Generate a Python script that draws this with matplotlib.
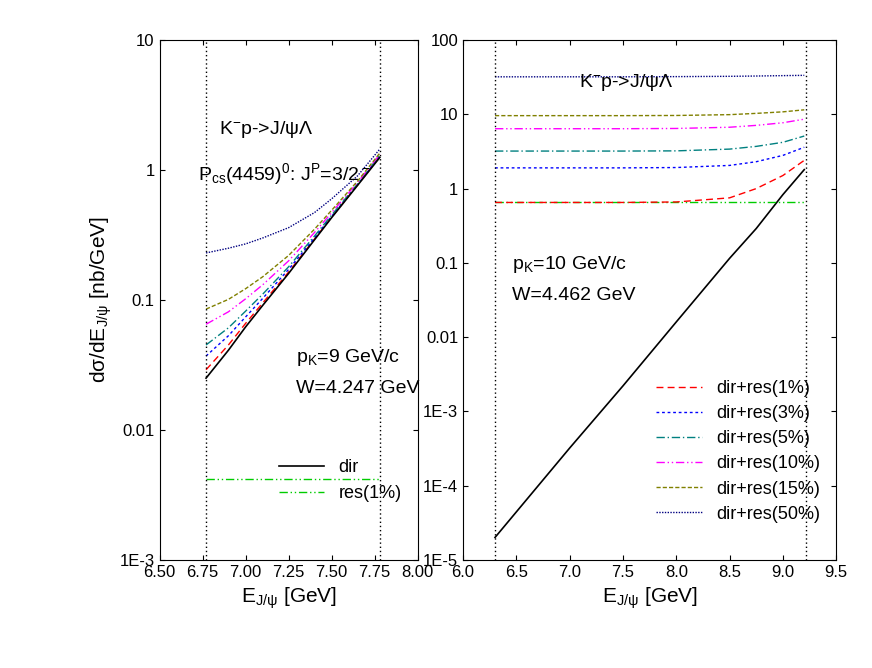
import matplotlib
matplotlib.use("Agg")
import matplotlib.pyplot as plt
from matplotlib.ticker import FixedLocator, NullLocator

plt.rcParams["font.family"] = "Liberation Sans"
plt.rcParams["font.size"] = 13
plt.rcParams["mathtext.default"] = "regular"

#left panel data (p_K = 9 GeV/c)
E_left = [6.77, 6.9, 7.0, 7.1, 7.25, 7.4, 7.5, 7.65, 7.78]
dir_left = [0.025, 0.041, 0.062, 0.091, 0.16, 0.29, 0.43, 0.76, 1.25]
res1_left = [0.0042] * 9
left_mix = {
    "dir+res(1%)": [0.029, 0.045, 0.066, 0.095, 0.164, 0.294, 0.434, 0.765, 1.27],
    "dir+res(3%)": [0.037, 0.053, 0.074, 0.103, 0.172, 0.30, 0.44, 0.77, 1.28],
    "dir+res(5%)": [0.045, 0.061, 0.082, 0.111, 0.18, 0.31, 0.45, 0.78, 1.30],
    "dir+res(10%)": [0.065, 0.081, 0.102, 0.131, 0.20, 0.33, 0.47, 0.80, 1.32],
    "dir+res(15%)": [0.085, 0.101, 0.122, 0.151, 0.22, 0.35, 0.49, 0.82, 1.35],
    "dir+res(50%)": [0.23, 0.25, 0.27, 0.30, 0.36, 0.47, 0.60, 0.90, 1.45],
}

#right panel data (p_K = 10 GeV/c)
E_right = [6.3, 7.0, 7.5, 8.0, 8.5, 8.75, 9.0, 9.2]
dir_right = [2e-5, 3.2e-4, 2.2e-3, 0.016, 0.115, 0.29, 0.83, 1.8]
res1_right = [0.65] * 8
right_mix = {
    "dir+res(1%)": [0.65, 0.65, 0.65, 0.66, 0.75, 1.0, 1.5, 2.4],
    "dir+res(3%)": [1.9, 1.9, 1.9, 1.92, 2.05, 2.3, 2.8, 3.6],
    "dir+res(5%)": [3.2, 3.2, 3.2, 3.22, 3.4, 3.7, 4.2, 5.1],
    "dir+res(10%)": [6.4, 6.4, 6.4, 6.45, 6.7, 7.1, 7.7, 8.6],
    "dir+res(15%)": [9.6, 9.6, 9.6, 9.65, 9.9, 10.3, 10.8, 11.5],
    "dir+res(50%)": [32, 32, 32, 32.2, 32.5, 32.8, 33.2, 33.5],
}

styles = {
    "dir+res(1%)": ("#ff0000", (0, (5, 3))),
    "dir+res(3%)": ("#0000ff", (0, (2, 2))),
    "dir+res(5%)": ("#008080", (0, (6, 2, 1, 2))),
    "dir+res(10%)": ("#ff00ff", (0, (6, 2, 1, 2, 1, 2))),
    "dir+res(15%)": ("#808000", (0, (3, 1.5))),
    "dir+res(50%)": ("#000080", (0, (1, 1))),
}
GREEN = "#00cc00"

fig = plt.figure(figsize=(8.72, 6.68), dpi=100)
ax1 = fig.add_axes([0.183, 0.162, 0.296, 0.778])
ax2 = fig.add_axes([0.531, 0.162, 0.428, 0.778])

#left panel
for name, vals in left_mix.items():
    c, ls = styles[name]
    ax1.plot(E_left, vals, color=c, ls=ls, lw=1)
ax1.plot(E_left, dir_left, color="black", lw=1.2, label="dir")
ax1.plot(E_left, res1_left, color=GREEN, ls=(0, (6, 2, 1, 2, 1, 2)), lw=1, label="res(1%)")
for x in [6.77, 7.78]:
    ax1.axvline(x, color="black", ls=(0, (1, 2)), lw=1)
ax1.set_yscale("log")
ax1.set_xlim(6.5, 8.0)
ax1.set_ylim(1e-3, 10)
ax1.set_xticks([6.5, 6.75, 7.0, 7.25, 7.5, 7.75, 8.0])
ax1.set_xticklabels(["6.50", "6.75", "7.00", "7.25", "7.50", "7.75", "8.00"])
ax1.yaxis.set_major_locator(FixedLocator([1e-3, 0.01, 0.1, 1, 10]))
ax1.yaxis.set_minor_locator(NullLocator())
ax1.set_yticklabels(["1E-3", "0.01", "0.1", "1", "10"])
ax1.set_xlabel(r"E$_{J/\psi}$ [GeV]", fontsize=15)
ax1.set_ylabel(r"d$\sigma$/dE$_{J/\psi}$ [nb/GeV]", fontsize=15)
ax1.text(0.23, 0.82, r"K$^{-}$p->J/$\psi\Lambda$", transform=ax1.transAxes, fontsize=14)
ax1.text(0.15, 0.73, r"P$_{cs}$(4459)$^0$: J$^P$=3/2$^-$", transform=ax1.transAxes, fontsize=14)
ax1.text(0.53, 0.38, r"p$_K$=9 GeV/c", transform=ax1.transAxes, fontsize=14)
ax1.text(0.53, 0.32, "W=4.247 GeV", transform=ax1.transAxes, fontsize=14)
ax1.legend(loc="lower right", bbox_to_anchor=(1.0, 0.08), frameon=False, fontsize=13,
           handlelength=2.5)

#right panel
ax2.plot(E_right, dir_right, color="black", lw=1.2)
ax2.plot(E_right, res1_right, color=GREEN, ls=(0, (6, 2, 1, 2, 1, 2)), lw=1)
for name, vals in right_mix.items():
    c, ls = styles[name]
    ax2.plot(E_right, vals, color=c, ls=ls, lw=1, label=name)
for x in [6.3, 9.22]:
    ax2.axvline(x, color="black", ls=(0, (1, 2)), lw=1)
ax2.set_yscale("log")
ax2.set_xlim(6.0, 9.5)
ax2.set_ylim(1e-5, 100)
ax2.set_xticks([6.0, 6.5, 7.0, 7.5, 8.0, 8.5, 9.0, 9.5])
ax2.yaxis.set_major_locator(FixedLocator([1e-5, 1e-4, 1e-3, 0.01, 0.1, 1, 10, 100]))
ax2.yaxis.set_minor_locator(NullLocator())
ax2.set_yticklabels(["1E-5", "1E-4", "1E-3", "0.01", "0.1", "1", "10", "100"])
ax2.set_xlabel(r"E$_{J/\psi}$ [GeV]", fontsize=15)
ax2.text(0.31, 0.91, r"K$^{-}$p->J/$\psi\Lambda$", transform=ax2.transAxes, fontsize=14)
ax2.text(0.13, 0.56, r"p$_K$=10 GeV/c", transform=ax2.transAxes, fontsize=14)
ax2.text(0.13, 0.5, "W=4.462 GeV", transform=ax2.transAxes, fontsize=14)
ax2.legend(loc="lower right", bbox_to_anchor=(1.0, 0.04), frameon=False, fontsize=13,
           handlelength=2.5, labelspacing=0.45)

for ax in (ax1, ax2):
    ax.tick_params(which="both", direction="in", top=True, right=True, labelsize=12)

fig.savefig("out.png", dpi=100)
